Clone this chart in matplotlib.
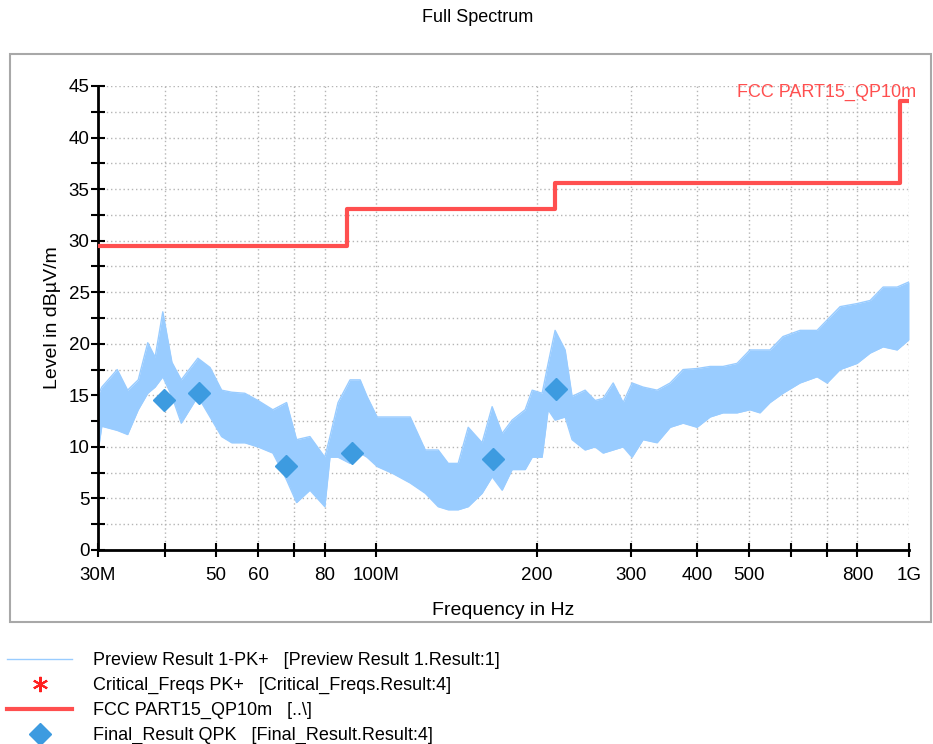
import matplotlib
matplotlib.use('Agg')
import matplotlib.pyplot as plt
from matplotlib.patches import Rectangle
import numpy as np

plt.rcParams['font.family'] = ['Liberation Sans', 'DejaVu Sans']

# Preview Result 1-PK+ : envelope of the swept spectrum (MHz, dBuV/m)
spec_freq = [30.0, 30.5, 32.6, 34.1, 35.7, 37.2, 38.4, 39.7, 41.3, 43.0,
             46.2, 48.7, 51.2, 53.5, 56.6, 59.9, 63.9, 67.8, 70.8, 75.0,
             80.0, 81.8, 84.7, 89.2, 93.2, 96.0, 100.3, 107.5, 115.7, 123.5,
             130.6, 136.4, 142.4, 148.7, 157.9, 164.9, 172.2, 179.8, 190.2, 196.1,
             204.7, 210.1, 216.5, 226.1, 233.0, 246.5, 257.4, 266.5, 278.3, 290.6,
             302.0, 316.7, 336.5, 356.1, 376.6, 400.0, 423.2, 447.5, 475.5, 502.8,
             525.0, 548.3, 579.9, 624.3, 672.1, 701.8, 742.4, 799.2, 845.4, 894.2,
             950.0, 1000.0]
spec_upper = [15.0, 15.8, 17.5, 15.5, 16.5, 20.1, 18.7, 23.1, 18.2, 16.5,
              18.6, 17.7, 15.5, 15.3, 15.2, 14.5, 13.6, 14.3, 10.7, 11.0,
              9.0, 11.0, 14.3, 16.5, 16.5, 14.9, 12.9, 12.9, 12.9, 9.7,
              9.7, 8.4, 8.4, 11.9, 10.4, 13.9, 11.3, 12.6, 13.6, 15.5,
              15.2, 18.1, 21.3, 19.4, 14.9, 15.5, 14.5, 14.7, 16.2, 14.3,
              16.2, 15.8, 15.5, 16.2, 17.5, 17.6, 17.8, 17.8, 18.1, 19.4,
              19.4, 19.4, 20.7, 21.3, 21.3, 22.3, 23.6, 23.9, 24.2, 25.5,
              25.5, 26.0]
spec_lower = [9.5, 12.0, 11.6, 11.2, 13.6, 15.2, 15.8, 16.8, 14.9, 12.3,
              14.9, 12.9, 11.0, 10.4, 10.4, 10.0, 9.4, 6.8, 4.6, 5.8,
              4.2, 9.0, 9.0, 8.4, 9.4, 9.0, 8.1, 7.4, 6.5, 5.5,
              4.2, 3.9, 3.9, 4.2, 5.5, 7.1, 5.8, 7.8, 7.8, 9.0,
              9.0, 13.6, 12.6, 12.9, 10.7, 9.7, 10.0, 9.4, 9.7, 10.0,
              9.0, 10.7, 10.4, 11.9, 12.3, 11.9, 12.9, 13.3, 13.3, 13.6,
              13.3, 14.3, 15.2, 16.2, 16.8, 16.2, 17.5, 18.1, 19.1, 19.7,
              19.4, 20.4]

# FCC Part 15 class B, 10 m, quasi-peak limit
limit_freq = [30, 88, 88, 216, 216, 960, 960, 1000]
limit_level = [29.5, 29.5, 33.1, 33.1, 35.6, 35.6, 43.5, 43.5]

# Final_Result QPK
qpk_freq = [39.9, 46.4, 67.7, 90.1, 165.4, 217.5]
qpk_level = [14.55, 15.25, 8.1, 9.45, 8.8, 15.6]

x_ticks = [30, 40, 50, 60, 70, 80, 100, 200, 300, 400, 500, 600, 700, 800, 1000]
x_labels = ['30M', '', '50', '60', '', '80', '100M', '200', '300', '400', '500', '', '', '800', '1G']

spec_color = '#99ccff'
limit_color = '#ff4f4f'
qpk_color = '#3d9be0'

fig = plt.figure(figsize=(9.33, 7.44), dpi=100)

# grauer Rahmen um den Plotbereich
fig.add_artist(Rectangle((10 / 933, 1 - 622 / 744), 921 / 933, 568 / 744,
                         transform=fig.transFigure, fill=False,
                         edgecolor='#a8a8a8', linewidth=1.5))

ax = fig.add_axes([98 / 933, 194 / 744, 811 / 933, 464 / 744])
ax.patch.set_facecolor('none')

f_spec = np.array(spec_freq) * 1e6
ax.fill_between(f_spec, spec_lower, spec_upper, color=spec_color, linewidth=0, zorder=2)
ax.plot(f_spec, spec_upper, color=spec_color, linewidth=1, zorder=2,
        label='Preview Result 1-PK+   [Preview Result 1.Result:1]')
ax.plot(f_spec, spec_lower, color=spec_color, linewidth=1, zorder=2)

# keine Critical_Freqs Punkte im Diagramm, nur Legendeneintrag
ax.plot([], [], linestyle='none', marker=(6, 2, 0), markersize=11, color='#ff2020',
        markeredgewidth=1.5, label='Critical_Freqs PK+   [Critical_Freqs.Result:4]')

ax.plot(np.array(limit_freq) * 1e6, limit_level, color=limit_color, linewidth=3,
        zorder=3, label='FCC PART15_QP10m   [..\\]')

ax.plot(np.array(qpk_freq) * 1e6, qpk_level, linestyle='none', marker='D',
        markersize=11, color=qpk_color, zorder=4,
        label='Final_Result QPK   [Final_Result.Result:4]')

ax.text(1.03e9, 44.4, 'FCC PART15_QP10m', color=limit_color, fontsize=13,
        ha='right', va='center', clip_on=False)

# Achsen
ax.set_xscale('log')
ax.set_xlim(30e6, 1e9)
ax.set_ylim(0, 45)
ax.set_xticks(np.array(x_ticks) * 1e6)
ax.set_xticklabels(x_labels)
ax.xaxis.set_minor_locator(matplotlib.ticker.NullLocator())
ax.set_yticks(np.arange(0, 46, 5))
ax.set_yticks(np.arange(2.5, 45, 5), minor=True)

for s in ['top', 'right']:
    ax.spines[s].set_visible(False)
for s in ['left', 'bottom']:
    ax.spines[s].set_linewidth(2)
    ax.spines[s].set_color('black')

ax.tick_params(axis='x', which='major', direction='inout', length=10, width=1.5,
               labelsize=13.5, pad=7)
ax.tick_params(axis='y', which='both', direction='inout', length=10, width=1.5,
               labelsize=13.5, pad=1)

ax.grid(True, which='both', color='#b5b5b5', linestyle=(0, (1, 2)), linewidth=1)
ax.set_axisbelow(True)

ax.set_xlabel('Frequency in Hz', fontsize=14, labelpad=13)
ax.set_ylabel('Level in dBµV/m', fontsize=14)
ax.yaxis.set_label_coords(-0.046, 0.5)

fig.text(478 / 933, 1 - 18 / 744, 'Full Spectrum', ha='center', va='center', fontsize=13)

fig.legend(loc='upper left', bbox_to_anchor=(7 / 933, 1 - 652 / 744), frameon=False,
           fontsize=13, handlelength=3.6, handletextpad=1.15, labelspacing=0.44,
           borderpad=0, borderaxespad=0)

fig.savefig('out.png', dpi=100)
